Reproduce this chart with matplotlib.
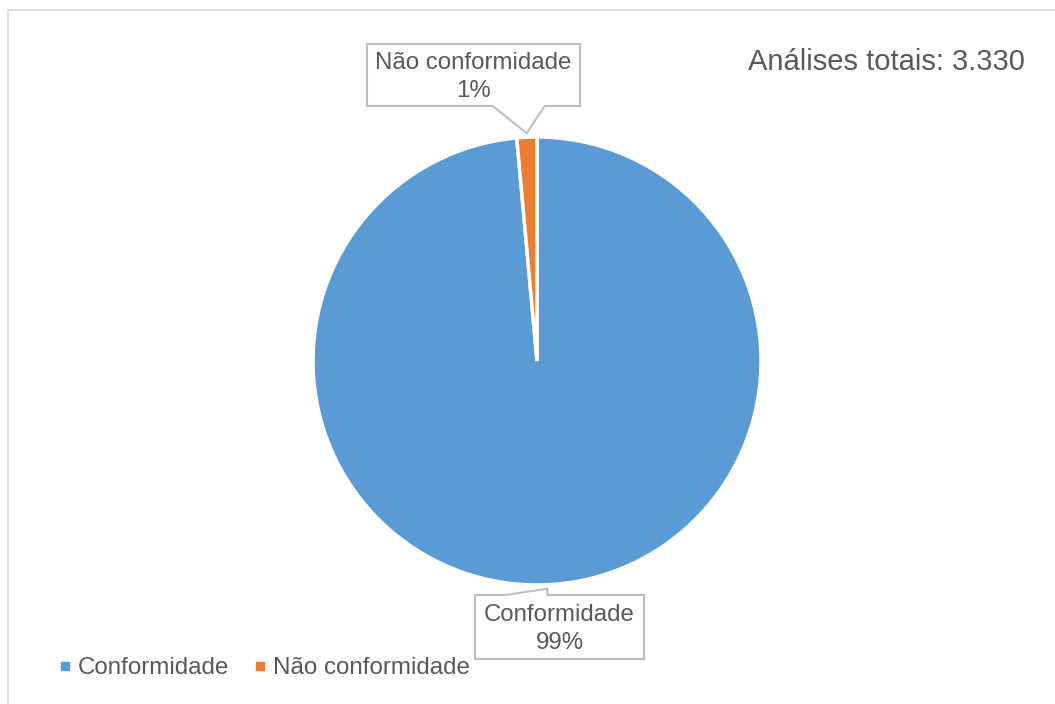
import numpy as np
import matplotlib.pyplot as plt
from matplotlib.patches import Polygon, Rectangle
from matplotlib.lines import Line2D

plt.rcParams['font.family'] = ['Liberation Sans', 'DejaVu Sans']

labels = ['Conformidade', 'Não conformidade']
values = [3282, 48]
pct_labels = ['99%', '1%']
total_text = 'Análises totais: 3.330'
colors = ['#5B9BD5', '#ED7D31']
txt_col = '#595959'

W, H = 1055, 704
fig = plt.figure(figsize=(W / 100, H / 100), dpi=100)
ax = fig.add_axes([0, 0, 1, 1])
ax.axis('off')

# moldura cinza
ax.add_patch(Rectangle((8, -10), W, H, fill=False, ec='#D9D9D9', lw=1.2))

cx, cy, r = 537, 343, 224
wedges, _ = ax.pie(values, colors=colors, startangle=90, counterclock=False,
                   center=(cx, cy), radius=r,
                   wedgeprops=dict(edgecolor='white', linewidth=2.5))
ax.set_xlim(0, W)
ax.set_ylim(0, H)
ax.set_aspect('auto')


def callout(tip, box, base, text):
    # box = (x0, y0, x1, y1) em pixels; base = (xa, xb) da ponta
    x0, y0, x1, y1 = box
    xa, xb = base
    if tip[1] > y1:
        pts = [(x0, y0), (x1, y0), (x1, y1), (xb, y1), tip, (xa, y1), (x0, y1)]
    else:
        pts = [(x0, y1), (x1, y1), (x1, y0), (xb, y0), tip, (xa, y0), (x0, y0)]
    ax.add_patch(Polygon(pts, closed=True, fc='white', ec='#BFBFBF', lw=1.5, zorder=5))
    ax.text((x0 + x1) / 2, (y0 + y1) / 2 - 2, text, ha='center', va='center',
            fontsize=17.3, color=txt_col, linespacing=1.32, zorder=6)


for w, lab, p in zip(wedges, labels, pct_labels):
    ang = np.deg2rad((w.theta1 + w.theta2) / 2)
    tx, ty = cx + (r + 4) * np.cos(ang), cy + (r + 4) * np.sin(ang)
    if ty > cy:
        callout((tx, ty), (367, 598, 580, 660), (tx - 34, tx + 18), lab + '\n' + p)
    else:
        callout((tx, ty), (475, 45, 644, 109), (tx - 42, tx), lab + '\n' + p)

ax.text(748, 642, total_text, ha='left', va='center', fontsize=21, color=txt_col)

handles = [Line2D([], [], ls='none', marker='s', ms=6, color=c) for c in colors]
ax.legend(handles, labels, loc='center left', bbox_to_anchor=(37 / W, 36 / H),
          frameon=False, fontsize=17.4, labelcolor=txt_col, handlelength=0.5,
          handletextpad=0.3, columnspacing=1.0, ncol=2)

fig.savefig('out.png', dpi=100)
